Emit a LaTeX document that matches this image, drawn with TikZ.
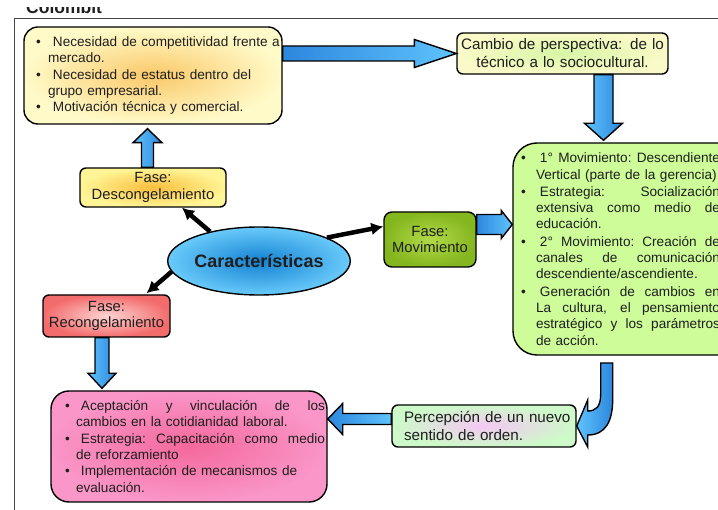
\documentclass[tikz,border=0pt]{standalone}
\usepackage{fontspec}
\setmainfont{Liberation Sans}
\usetikzlibrary{calc,arrows.meta,shapes.geometric}
\setlength{\parindent}{0pt}

\definecolor{txt}{RGB}{30,30,30}
\definecolor{frameC}{RGB}{70,70,70}
\definecolor{yelOut}{RGB}{255,250,200}
\definecolor{yelIn}{RGB}{250,200,105}
\definecolor{camOut}{RGB}{250,250,200}
\definecolor{camIn}{RGB}{215,246,165}
\definecolor{grnBox}{RGB}{205,252,152}
\definecolor{movOut}{RGB}{132,182,30}
\definecolor{movIn}{RGB}{178,218,72}
\definecolor{desOut}{RGB}{255,245,150}
\definecolor{desIn}{RGB}{250,190,60}
\definecolor{recOut}{RGB}{243,108,108}
\definecolor{recIn}{RGB}{255,212,212}
\definecolor{pnkOut}{RGB}{250,150,200}
\definecolor{pnkIn}{RGB}{244,104,155}
\definecolor{perOut}{RGB}{205,250,200}
\definecolor{perIn}{RGB}{245,200,245}
\definecolor{ellOut}{RGB}{105,202,250}
\definecolor{ellIn}{RGB}{20,130,210}
\definecolor{bluL}{RGB}{95,195,252}
\definecolor{bluD}{RGB}{45,135,222}

\newcommand\bodyfont{\fontsize{13.6}{16.3}\selectfont}
\newcommand\labfont{\fontsize{15.2}{18}\selectfont}
\newcommand\fasefont{\fontsize{14.8}{16.8}\selectfont}

% block arrows: #1 tail, #2 tip, #3 half body, #4 half head, #5 head length
\newcommand\ArrR[5]{\path[barrowH] let \p1=#1, \p2=#2 in
  (\x1,\y2+#3) -- (\x2-#5,\y2+#3) -- (\x2-#5,\y2+#4) -- (\p2) --
  (\x2-#5,\y2-#4) -- (\x2-#5,\y2-#3) -- (\x1,\y2-#3) -- cycle;}
\newcommand\ArrL[5]{\path[barrowH] let \p1=#1, \p2=#2 in
  (\x1,\y2+#3) -- (\x2+#5,\y2+#3) -- (\x2+#5,\y2+#4) -- (\p2) --
  (\x2+#5,\y2-#4) -- (\x2+#5,\y2-#3) -- (\x1,\y2-#3) -- cycle;}
\newcommand\ArrD[5]{\path[barrowV] let \p1=#1, \p2=#2 in
  (\x2-#3,\y1) -- (\x2-#3,\y2+#5) -- (\x2-#4,\y2+#5) -- (\p2) --
  (\x2+#4,\y2+#5) -- (\x2+#3,\y2+#5) -- (\x2+#3,\y1) -- cycle;}
\newcommand\ArrU[5]{\path[barrowV] let \p1=#1, \p2=#2 in
  (\x2-#3,\y1) -- (\x2-#3,\y2-#5) -- (\x2-#4,\y2-#5) -- (\p2) --
  (\x2+#4,\y2-#5) -- (\x2+#3,\y2-#5) -- (\x2+#3,\y1) -- cycle;}

\newcommand\bul[2]{\hspace*{#1}\makebox[#2][l]{\textbullet}}
% justified line of given width
\newcommand\jl[2]{\makebox[#1][s]{\spaceskip=.278em plus 1fil\xspaceskip=.278em plus 1fil\relax #2}}

\begin{document}
\begin{tikzpicture}[x=1pt,y=-1pt,
  box/.style={draw=black, line width=1.4pt, rounded corners=6pt, inner sep=0pt, text=txt},
  barrowH/.style={draw=black, line width=1.4pt, line join=miter, left color=bluD, right color=bluL},
  barrowV/.style={draw=black, line width=1.4pt, line join=miter, left color=bluL, right color=bluD},
  blk/.style={line width=4.5pt, -{Latex[length=12pt,width=13pt]}},
  frame/.style={draw=frameC, line width=1pt}]
\useasboundingbox (0,0) rectangle (718,510);

\begin{scope}
  \clip (0,8) rectangle (200,20);
  \node[anchor=base west, inner sep=0pt, text=txt, font=\bfseries\fontsize{17.5}{20}\selectfont] (hdr) at (26,13.5) {Colombit};
\end{scope}
\draw[frame] (14,512) -- (14,19) -- (720,19);

% boxes
\node[box, rounded corners=14pt, inner color=yelIn, outer color=yelOut, text width=258pt,
      minimum height=97pt, align=left, font=\bodyfont] (top) at (153,75.5)
  {\bul{12pt}{12pt}\hspace{5pt}Necesidad de competitividad frente a\\
   \hspace*{24pt}mercado.\\
   \bul{12pt}{12pt}\hspace{5pt}Necesidad de estatus dentro del\\
   \hspace*{24pt}grupo empresarial.\\
   \bul{12pt}{12pt}\hspace{5pt}Motivación técnica y comercial.};

\node[box, inner color=camIn, outer color=camOut, text width=211pt, minimum height=41pt,
      align=center, font=\labfont] (cambio) at (562.5,53.5)
  {Cambio de perspectiva: de lo\\ técnico a lo sociocultural.};

\node[box, rounded corners=24pt, fill=grnBox, text width=232pt, minimum height=212pt,
      align=left, font=\bodyfont] (green) at (629,249)
  {\bul{8pt}{15pt}\jl{184pt}{\hspace{4pt}1° Movimiento: Descendiente}\\
   \hspace*{23pt}Vertical (parte de la gerencia)\\[1pt]
   \bul{8pt}{15pt}\jl{184pt}{\hspace{4pt}Estrategia: Socialización}\\
   \hspace*{23pt}\jl{184pt}{extensiva como medio de}\\
   \hspace*{23pt}educación.\\[1pt]
   \bul{8pt}{15pt}\jl{184pt}{\hspace{4pt}2° Movimiento: Creación de}\\
   \hspace*{23pt}\jl{184pt}{canales de comunicación}\\
   \hspace*{23pt}descendiente/ascendiente.\\[1pt]
   \bul{8pt}{15pt}\jl{184pt}{\hspace{4pt}Generación de cambios en}\\
   \hspace*{23pt}\jl{184pt}{La cultura, el pensamiento}\\
   \hspace*{23pt}\jl{184pt}{estratégico y los parámetros}\\
   \hspace*{23pt}de acción.};

\node[box, rounded corners=8pt, inner color=movIn, outer color=movOut, minimum width=92pt,
      minimum height=55pt, align=center, font=\fasefont] (mov) at (430,239.5)
  {Fase:\\Movimiento};

\node[ellipse, draw=black, line width=1.4pt, inner color=ellIn, outer color=ellOut,
      minimum width=176pt, minimum height=68pt, inner sep=0pt, text=txt,
      font=\bfseries\fontsize{18}{20}\selectfont] (car) at (259,261) {Características};

\node[box, inner color=desIn, outer color=desOut, minimum width=146pt, minimum height=39pt,
      align=center, font=\fasefont] (desc) at (153,187.5) {Fase:\\Descongelamiento};

\node[box, inner color=recIn, outer color=recOut, minimum width=127pt, minimum height=42pt,
      align=center, font=\fasefont] (rec) at (106.5,316) {Fase:\\Recongelamiento};

\node[box, rounded corners=18pt, inner color=pnkIn, outer color=pnkOut, text width=276pt,
      minimum height=111pt, align=left, font=\bodyfont] (pink) at (189,446.5)
  {\bul{14pt}{11pt}\jl{249pt}{\hspace{5pt}Aceptación y vinculación de los}\\
   \hspace*{25pt}cambios en la cotidianidad laboral.\\
   \bul{14pt}{11pt}\jl{249pt}{\hspace{5pt}Estrategia: Capacitación como medio}\\
   \hspace*{25pt}de reforzamiento\\
   \bul{14pt}{11pt}\hspace{5pt}Implementación de mecanismos de\\
   \hspace*{25pt}evaluación.};

\node[box, inner color=perIn, outer color=perOut, text width=184pt, minimum height=42pt,
      align=left, font=\labfont] (perc) at (484,426)
  {\hspace*{12pt}Percepción de un nuevo\\ \hspace*{12pt}sentido de orden.};

% black arrows
\draw[blk] (car.149) -- ($(desc.south)+(29,0)$);
\draw[blk] (car.187) -- ($(rec.north)+(40,-1)$);
\draw[blk] (car.19) -- ($(mov.west)+(0,-13)$);

% block arrows
\coordinate (c1) at ($(cambio.south)+(41,0)$);
\coordinate (m1) at ($(mov.east)+(0,-15)$);
\coordinate (d1) at ($(desc.north)+(-5.5,0)$);
\coordinate (r1) at ($(rec.south)+(-4.5,0)$);
\coordinate (p1) at ($(perc.west)+(0,-7)$);

\ArrR{(top.east)}{(cambio.west)}{7.5pt}{14pt}{42pt}
\ArrD{(c1)}{($(c1 |- green.north)+(0,-2)$)}{9.5pt}{19pt}{17pt}
\ArrR{(m1)}{(green.west |- m1)}{10pt}{14pt}{11pt}
\ArrU{(d1)}{($(d1 |- top.south)+(0,4)$)}{6pt}{14.5pt}{14pt}
\ArrD{(r1)}{($(r1 |- pink.north)+(0,-2)$)}{7pt}{14pt}{15pt}
\ArrL{(p1)}{(pink.east |- p1)}{5.5pt}{15.5pt}{15pt}

% curved arrow from green box to Percepcion
\coordinate (q) at (perc.east);
\path[barrowV] ($(q)+(24,-63)$) -- ($(q)+(24,-32)$)
   .. controls ($(q)+(24,-19)$) and ($(q)+(19,-15)$) .. ($(q)+(11,-15)$)
   -- ($(q)+(11,-26)$) -- (q) -- ($(q)+(11,21)$) -- ($(q)+(11,9)$)
   .. controls ($(q)+(29,9)$) and ($(q)+(36,-5)$) .. ($(q)+(36,-27)$)
   -- ($(q)+(36,-63)$) -- cycle;
\end{tikzpicture}
\end{document}
